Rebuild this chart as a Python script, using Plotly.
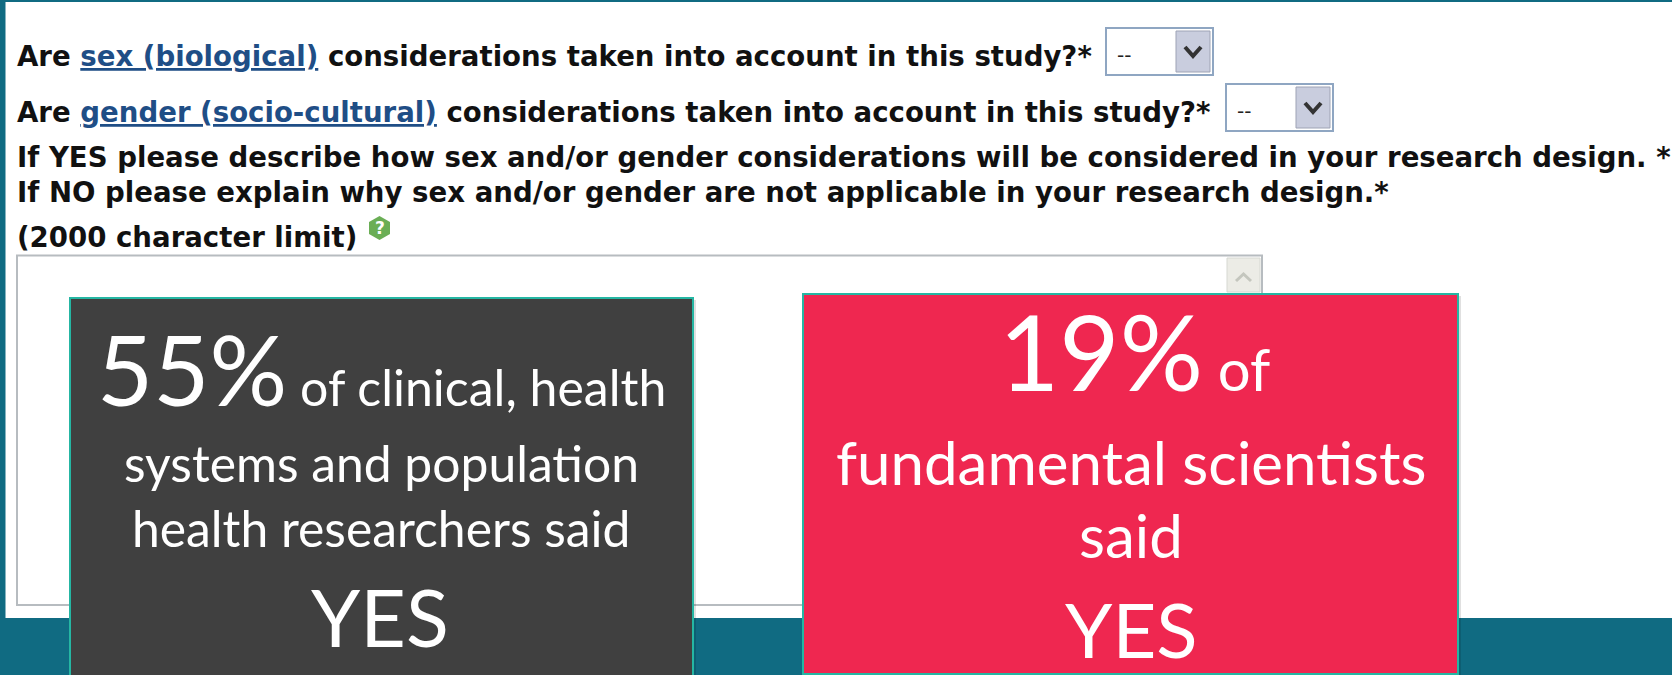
import plotly.graph_objects as go

# ---- content ----
form_prefix = ["Are ", "Are "]
form_links = ["sex (biological)", "gender (socio-cultural)"]
form_suffix = [" considerations taken into account in this study?*"] * 2
form_notes = [
    "If YES please describe how sex and/or gender considerations will be considered in your research design. *",
    "If NO please explain why sex and/or gender are not applicable in your research design.*",
    "(2000 character limit)",
]
dropdown_value = "--"
percents = ["55%", "19%"]
lead_in = ["of clinical, health", "of"]
dark_lines = ["systems and population", "health researchers said"]
red_lines = ["fundamental scientists", "said"]
answer = "YES"

TEAL = "#106B82"
EDGE = "#25B6A3"
DARK = "#404040"
RED = "#EF2750"
LINK = "#1F4E86"
W, H = 1672, 675

shapes = []


def rect(x0, y0, x1, y1, fill, line=None, lw=1):
    shapes.append(dict(type="rect", x0=x0, y0=y0, x1=x1, y1=y1, fillcolor=fill,
                       line=dict(color=line or fill, width=lw if line else 0), layer="above"))


def path(d, color=None, lw=2, fill=None):
    shapes.append(dict(type="path", path=d, fillcolor=fill or "rgba(0,0,0,0)",
                       line=dict(color=color or "rgba(0,0,0,0)", width=lw), layer="above"))


annotations = []


def text(x, y, s, size, anchor="left", family="DejaVu Sans", color="#111111", weight=None):
    font = dict(family=family, size=size, color=color)
    if weight:
        font["weight"] = weight
    annotations.append(dict(x=x, y=y, text=s, xref="x", yref="y", showarrow=False, xanchor=anchor,
                            yanchor="middle", font=font, borderpad=0, borderwidth=0, align=anchor))


# page
rect(0, 0, W, H, TEAL)
rect(5.5, 2, W, 618, "#FFFFFF")


def dropdown(x0, y0):
    rect(x0, y0, x0 + 107, y0 + 47, "#FFFFFF", "#8FA6C2", 2)
    rect(x0 + 70, y0 + 3, x0 + 104, y0 + 44, "#C9CDDE", "#9EA3B5", 1)
    path(f"M {x0+79} {y0+19} L {x0+87} {y0+28} L {x0+95} {y0+19}", "#333333", 4)
    text(x0 + 11, y0 + 27, dropdown_value, 20, color="#222222")


dropdown(1106, 28)
dropdown(1226, 84)

# free-text box
rect(17, 255.5, 1262, 605, "#FFFFFF", "#B7BCC0", 2)
rect(1227, 258, 1260, 292, "#ECECE6", "#D6D8D2", 1)
path("M 1236 281 L 1243.5 274 L 1251 281", "#C4C6BE", 3)

# help icon
path("M 379.5 216 L 390 222 L 390 234 L 379.5 240 L 369 234 L 369 222 Z", fill="#6AAE55", lw=0)
text(379.5, 228, "?", 17, anchor="center", color="#FFFFFF", weight=700)

# callouts with a faint drop shadow
rect(72, 300, 696, 690, "rgba(0,0,0,0.12)")
rect(805, 296, 1461, 675, "rgba(0,0,0,0.12)")
rect(70, 298, 693, 690, DARK, EDGE, 2)
rect(803, 294, 1458, 674, RED, EDGE, 2)

BIG = "Lato"
WT = 400

# form text
for i, y in enumerate([56, 112]):
    link = f'<span style="color:{LINK}"><u>{form_links[i]}</u></span>'
    text(17, y, f"<b>{form_prefix[i]}</b><b>{link}</b><b>{form_suffix[i]}</b>", 27.6)
for s, y in zip(form_notes, [157, 192, 237]):
    text(17, y, f"<b>{s}</b>", 27.6)

# dark callout
text(381, 368, f'<span style="font-size:97px">{percents[0]}</span> {lead_in[0]}', 50, "center", BIG, "#FFFFFF", WT)
text(381, 463, dark_lines[0], 49.8, "center", BIG, "#FFFFFF", WT)
text(381, 528, dark_lines[1], 49.8, "center", BIG, "#FFFFFF", WT)
text(380, 616, answer, 79, "center", BIG, "#FFFFFF", WT)

# red callout
text(1134, 350, f'<span style="font-size:104px">{percents[1]}</span> {lead_in[1]}', 58, "center", BIG, "#FFFFFF", WT)
text(1131, 462, red_lines[0], 60, "center", BIG, "#FFFFFF", WT)
text(1131, 535, red_lines[1], 60, "center", BIG, "#FFFFFF", WT)
text(1131, 628, answer, 76, "center", BIG, "#FFFFFF", WT)

fig = go.Figure()
fig.update_layout(
    width=W, height=H, margin=dict(l=0, r=0, t=0, b=0),
    paper_bgcolor=TEAL, plot_bgcolor=TEAL, showlegend=False,
    xaxis=dict(range=[0, W], visible=False, fixedrange=True),
    yaxis=dict(range=[H, 0], visible=False, fixedrange=True),
    shapes=shapes, annotations=annotations,
)
fig.write_html("out.html", config=dict(displayModeBar=False),
               post_script="document.body.style.margin='0';document.body.style.overflow='hidden';")
